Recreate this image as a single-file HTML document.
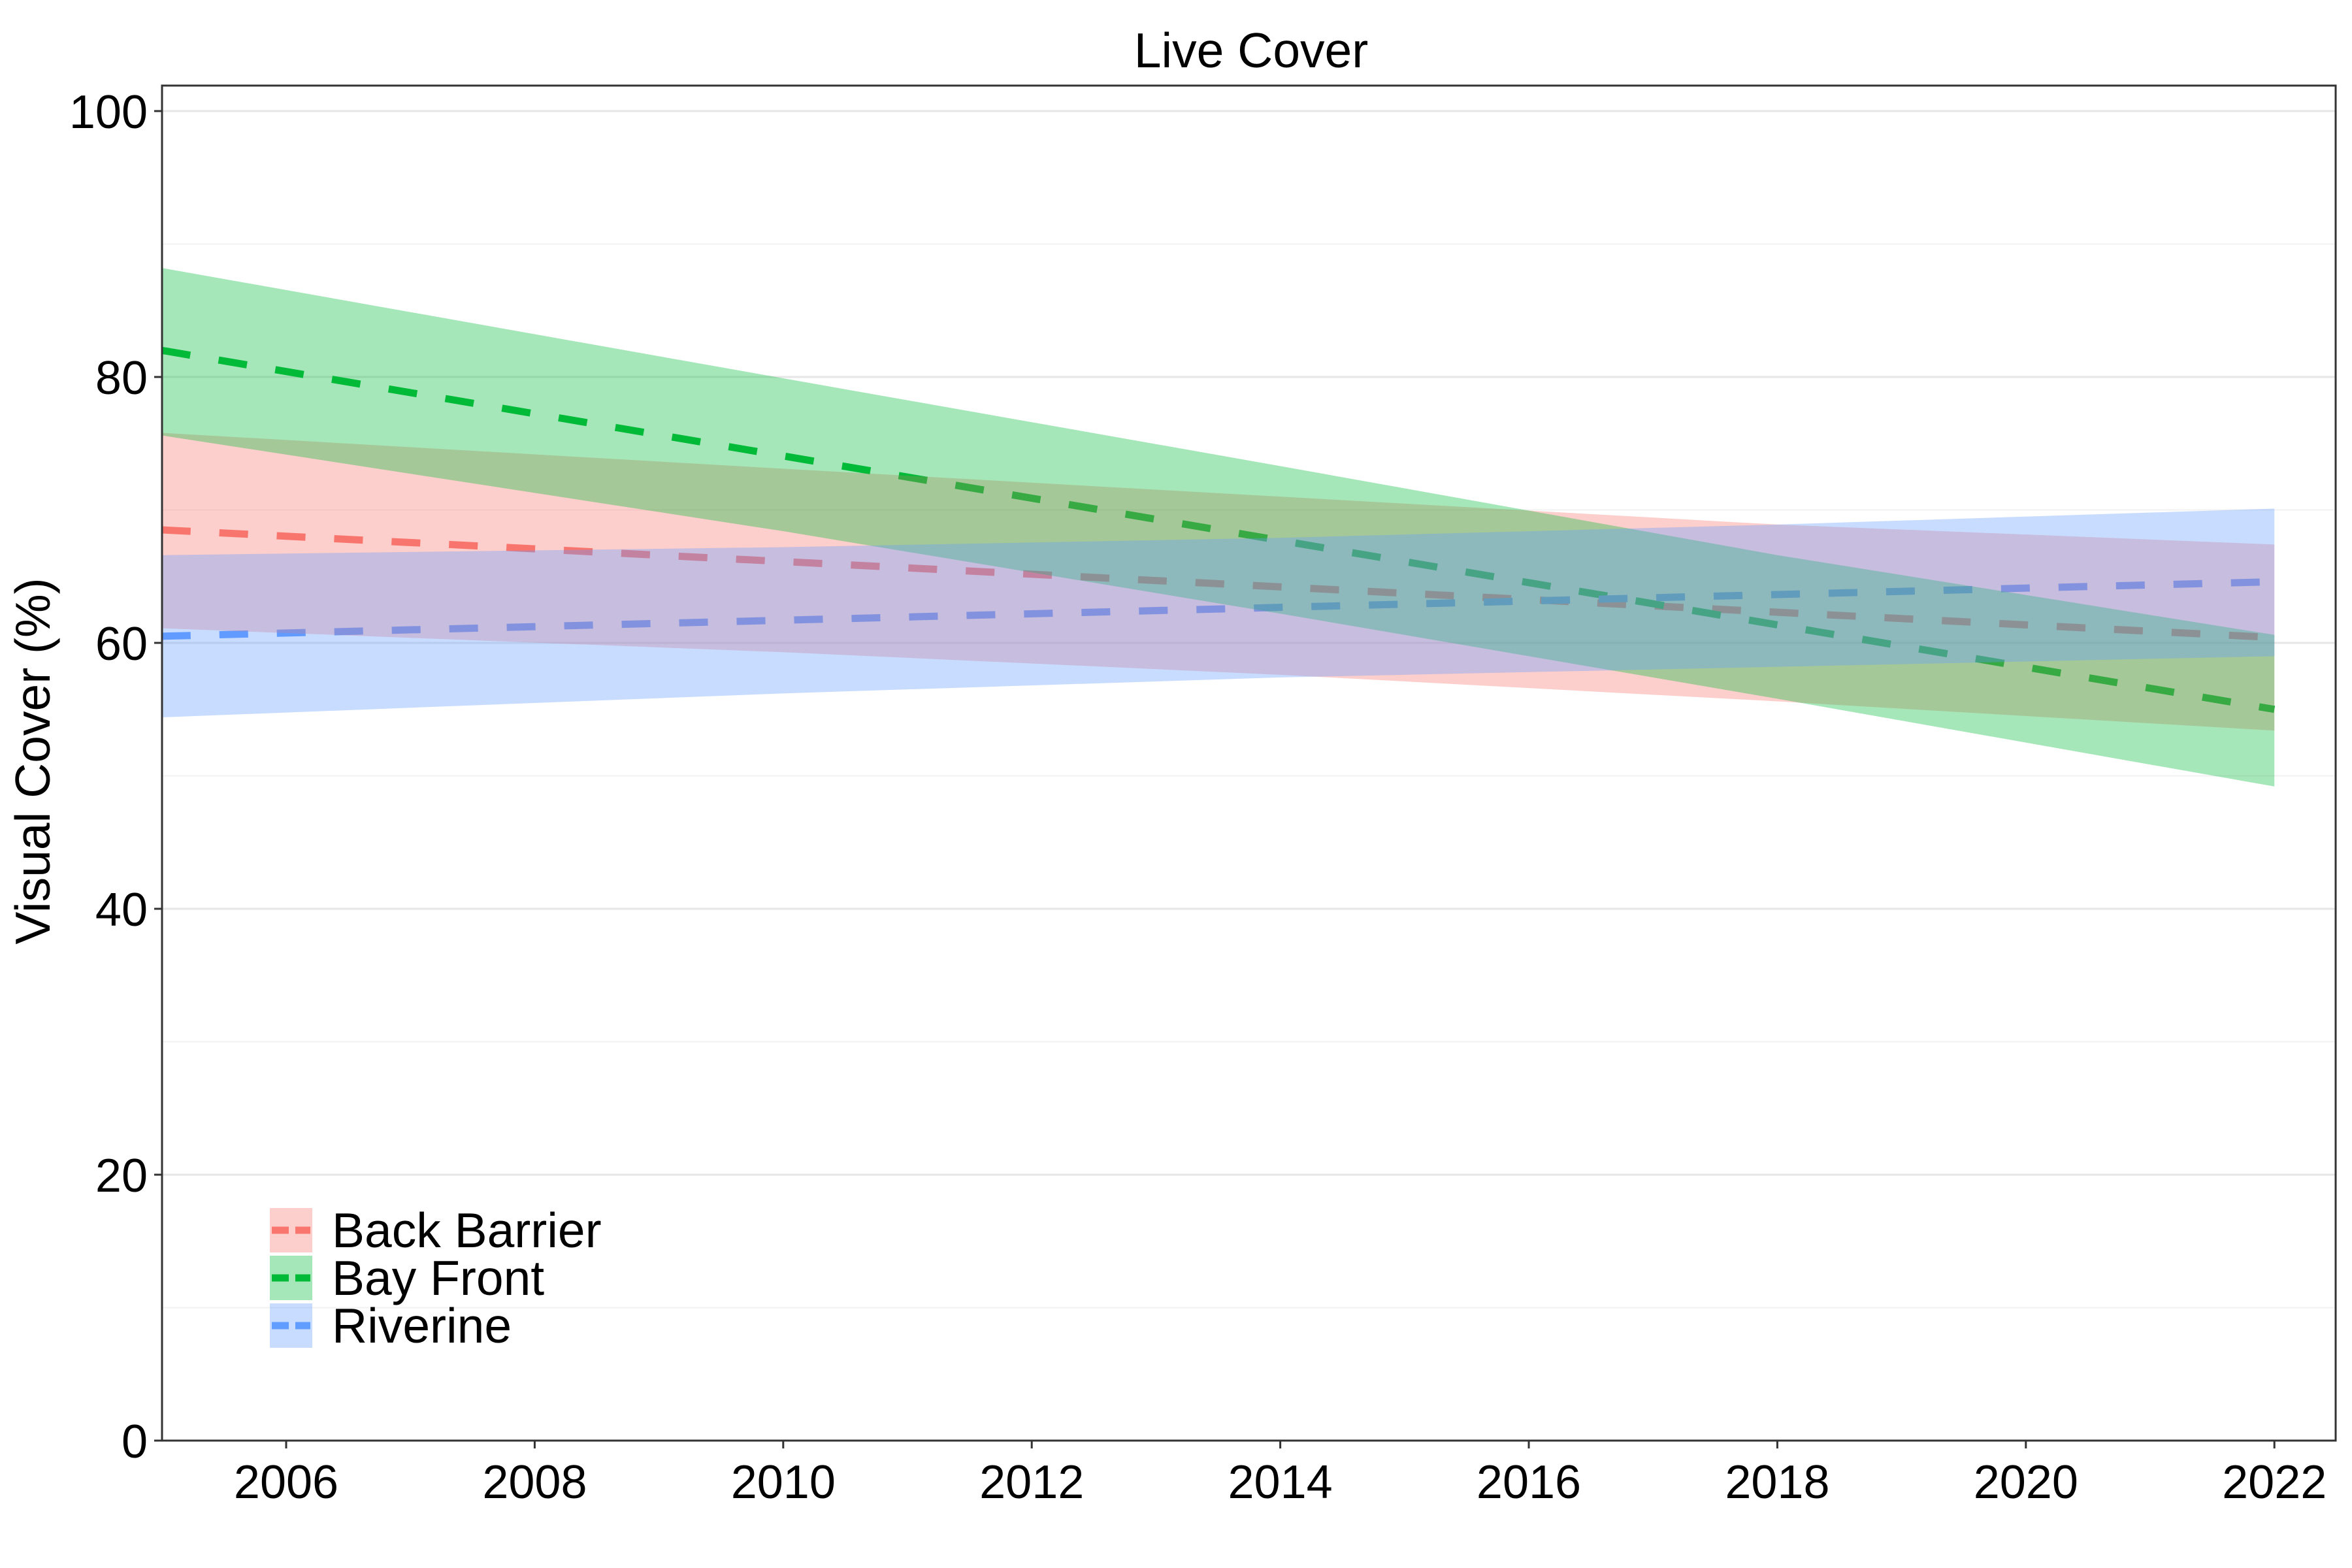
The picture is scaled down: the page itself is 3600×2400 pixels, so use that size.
<!DOCTYPE html>
<html><head><meta charset="utf-8"><style>
body{margin:0;background:#fff}
svg{display:block;font-family:"Liberation Sans",sans-serif}
</style></head><body>
<svg id="chart" width="3600" height="2400" viewBox="0 0 3600 2400" xmlns="http://www.w3.org/2000/svg">
<rect width="3600" height="2400" fill="#fff"/>
<text x="1915" y="103" font-size="75" text-anchor="middle">Live Cover</text>
<text transform="translate(76,1165) rotate(-90)" font-size="75" text-anchor="middle">Visual Cover (%)</text>
<g id="grid"></g><g id="lines"></g><g id="bands"></g><g id="axes"></g>
<g id="legend"></g>
</svg>
<script>
const years=[2005,2010,2014,2018,2022];
const seriesNames=["Back Barrier","Bay Front","Riverine"];
const colors=["#F8766D","#00BA38","#619CFF"];
const bbUpper=[75.8,73.1,71.0,68.9,67.4];
const bbLower=[61.1,59.3,57.6,55.6,53.4];
const bfUpper=[88.2,79.9,73.3,66.6,60.6];
const bfLower=[75.6,68.4,62.2,55.8,49.2];
const rvUpper=[66.6,67.2,67.9,68.9,70.1];
const rvLower=[54.4,56.2,57.4,58.2,59.0];
const bbFit=[68.5,60.4];
const bfFit=[82.0,55.0];
const rvFit=[60.5,64.6];
const fitYears=[2005,2022];
const yTicks=[0,20,40,60,80,100];
const yMinor=[10,30,50,70,90];
const xTicks=[2006,2008,2010,2012,2014,2016,2018,2020,2022];

const L=248,R=3575,T=131,B=2205;
const xs=v=>438+(v-2006)*190.2;
const ys=v=>B-v*20.35;
const NS="http://www.w3.org/2000/svg";
function mk(tag,attrs,parent){const e=document.createElementNS(NS,tag);for(const k in attrs)e.setAttribute(k,attrs[k]);parent.appendChild(e);return e;}
const grid=document.getElementById('grid'),lines=document.getElementById('lines'),bands=document.getElementById('bands'),axes=document.getElementById('axes'),legend=document.getElementById('legend');

yMinor.forEach(v=>{const g=mk('line',{x1:L,x2:R,y1:ys(v),y2:ys(v),stroke:'#f2f2f2','stroke-width':2},grid);

});
yTicks.forEach(v=>{const g=mk('line',{x1:L,x2:R,y1:ys(v),y2:ys(v),stroke:'#e6e6e6','stroke-width':3},grid);

});

const fits=[bbFit,bfFit,rvFit];
const ups=[bbUpper,bfUpper,rvUpper],los=[bbLower,bfLower,rvLower];
const keys=['back-barrier','bay-front','riverine'];
fits.forEach((f,i)=>{const l=mk('line',{x1:xs(fitYears[0]),x2:xs(fitYears[1]),y1:ys(f[0]),y2:ys(f[1]),stroke:colors[i],'stroke-width':11,'stroke-dasharray':'44 44'},lines);

});
ups.forEach((u,i)=>{let d='';years.forEach((y,j)=>{d+=(j?'L':'M')+xs(y)+','+ys(u[j]);});
for(let j=years.length-1;j>=0;j--)d+='L'+xs(years[j])+','+ys(los[i][j]);d+='Z';
const p=mk('path',{d:d,fill:colors[i],'fill-opacity':0.35},bands);

});

const fr=mk('rect',{x:L,y:T,width:R-L,height:B-T,fill:'none',stroke:'#333','stroke-width':3},axes);


yTicks.forEach(v=>{const t=mk('line',{x1:L-12,x2:L,y1:ys(v),y2:ys(v),stroke:'#333','stroke-width':3},axes);


const tx=mk('text',{x:L-22,y:ys(v)+26,'font-size':72,'text-anchor':'end'},axes);tx.textContent=v;

});
xTicks.forEach(v=>{const t=mk('line',{x1:xs(v),x2:xs(v),y1:B,y2:B+12,stroke:'#333','stroke-width':3},axes);


const tx=mk('text',{x:xs(v),y:B+88,'font-size':72,'text-anchor':'middle'},axes);tx.textContent=v;

});

seriesNames.forEach((n,i)=>{const cy=1883+i*73;
const g=mk('g',{},legend);


mk('rect',{x:413,y:cy-34,width:65,height:68,fill:colors[i],'fill-opacity':0.35},g);
mk('line',{x1:416,x2:475,y1:cy,y2:cy,stroke:colors[i],'stroke-width':11,'stroke-dasharray':'26 10'},g);
const t=mk('text',{x:508,y:cy+26,'font-size':75},g);t.textContent=n;});
</script>
</body></html>
